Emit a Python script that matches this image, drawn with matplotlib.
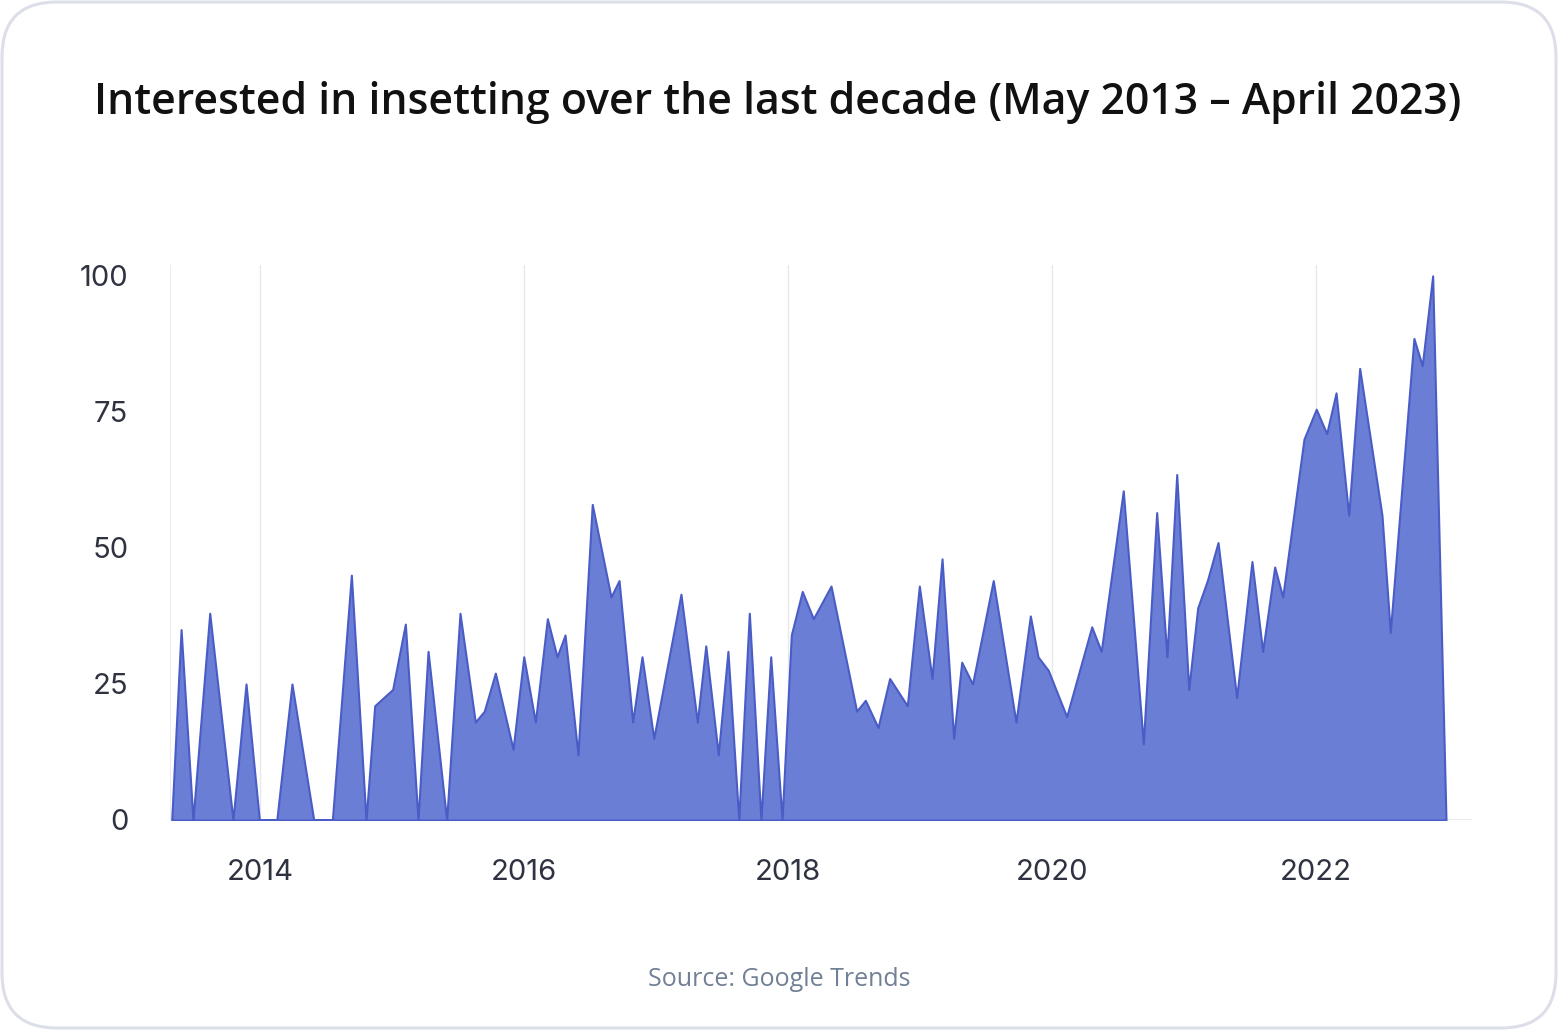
import matplotlib.pyplot as plt
from matplotlib.patches import FancyBboxPatch

# Google Trends interest, vertices (decimal year, index 0-100)
dates = [2013.331, 2013.402, 2013.492, 2013.619, 2013.795, 2013.894, 2013.995,
         2014.127, 2014.242, 2014.407, 2014.548, 2014.692, 2014.803, 2014.869,
         2015.005, 2015.101, 2015.197, 2015.273, 2015.414, 2015.515, 2015.631,
         2015.699, 2015.783, 2015.917, 2015.998, 2016.086, 2016.177, 2016.250,
         2016.311, 2016.409, 2016.517, 2016.659, 2016.720, 2016.823, 2016.894,
         2016.983, 2017.189, 2017.313, 2017.377, 2017.472, 2017.545, 2017.627,
         2017.707, 2017.795, 2017.869, 2017.955, 2018.025, 2018.108, 2018.192,
         2018.326, 2018.520, 2018.586, 2018.682, 2018.770, 2018.904, 2018.995,
         2019.091, 2019.167, 2019.255, 2019.316, 2019.398, 2019.555, 2019.727,
         2019.836, 2019.894, 2019.972, 2020.111, 2020.301, 2020.373, 2020.540,
         2020.692, 2020.793, 2020.871, 2020.945, 2021.036, 2021.104, 2021.177,
         2021.258, 2021.399, 2021.515, 2021.596, 2021.687, 2021.748, 2021.909,
         2022.002, 2022.081, 2022.152, 2022.248, 2022.331, 2022.500, 2022.563,
         2022.742, 2022.805, 2022.884, 2022.985]
interest = [0, 35, 0, 38, 0, 25, 0,
            0, 25, 0, 0, 45, 0, 21,
            24, 36, 0, 31, 0, 38, 18,
            20, 27, 13, 30, 18, 37, 30,
            34, 12, 58, 41, 44, 18, 30,
            15, 41.5, 18, 32, 12, 31, 0,
            38, 0, 30, 0, 34, 42, 37,
            43, 20, 22, 17, 26, 21, 43,
            26, 48, 15, 29, 25, 44, 18,
            37.5, 30, 27.5, 19, 35.5, 31, 60.5,
            14, 56.5, 30, 63.5, 24, 39, 44,
            51, 22.5, 47.5, 31, 46.5, 41, 70,
            75.5, 71, 78.5, 56, 83, 56, 34.5,
            88.5, 83.5, 100, 0]

year_ticks = [2014, 2016, 2018, 2020, 2022]
value_ticks = [0, 25, 50, 75, 100]

title = "Interested in insetting over the last decade (May 2013 \u2013 April 2023)"
source = "Source: Google Trends"

W, H = 1558, 1030
fig = plt.figure(figsize=(W / 100, H / 100), dpi=100)

# rounded card border
bg = fig.add_axes([0, 0, 1, 1], zorder=0)
bg.set_xlim(0, W)
bg.set_ylim(0, H)
bg.axis('off')
bg.add_patch(FancyBboxPatch((2, 2), W - 4, H - 4,
                            boxstyle="round,pad=0,rounding_size=55",
                            facecolor='white', edgecolor='#dcdfe8', linewidth=2.2))

ax = fig.add_axes([170 / W, 1 - 820 / H, 1302 / W, 555 / H], zorder=1)
ax.patch.set_alpha(0)
ax.fill_between(dates, 0, interest, facecolor='#6b7ed6', edgecolor='#4a5cc5',
                linewidth=1.5, zorder=3)
ax.axhline(0, color='#e3e5ea', linewidth=1.2, zorder=1)
ax.axvline(2013.318, color='#e8e9ed', linewidth=1.2, zorder=1)

ax.set_xlim(2013.318, 2023.182)
ax.set_ylim(0, 102)
ax.set_xticks(year_ticks)
ax.set_xticklabels([str(y) for y in year_ticks])
ax.set_yticks(value_ticks)
ax.grid(axis='x', color='#e8e9ed', linewidth=1.0, zorder=0)
ax.grid(axis='y', visible=False)
for s in ax.spines.values():
    s.set_visible(False)
ax.tick_params(axis='both', length=0, labelsize=21, labelcolor='#2f3240')
ax.tick_params(axis='x', pad=28)
ax.tick_params(axis='y', pad=30)
for lab in ax.get_xticklabels() + ax.get_yticklabels():
    lab.set_family('Inter')

fig.text(778 / W, 1 - 102 / H, title, ha='center', va='center',
         fontsize=30.8, fontweight='semibold', family='Open Sans', color='#111111')
fig.text(779 / W, 1 - 980 / H, source, ha='center', va='center',
         fontsize=18, family='Open Sans', color='#718096')

fig.savefig('out.png', dpi=100)
